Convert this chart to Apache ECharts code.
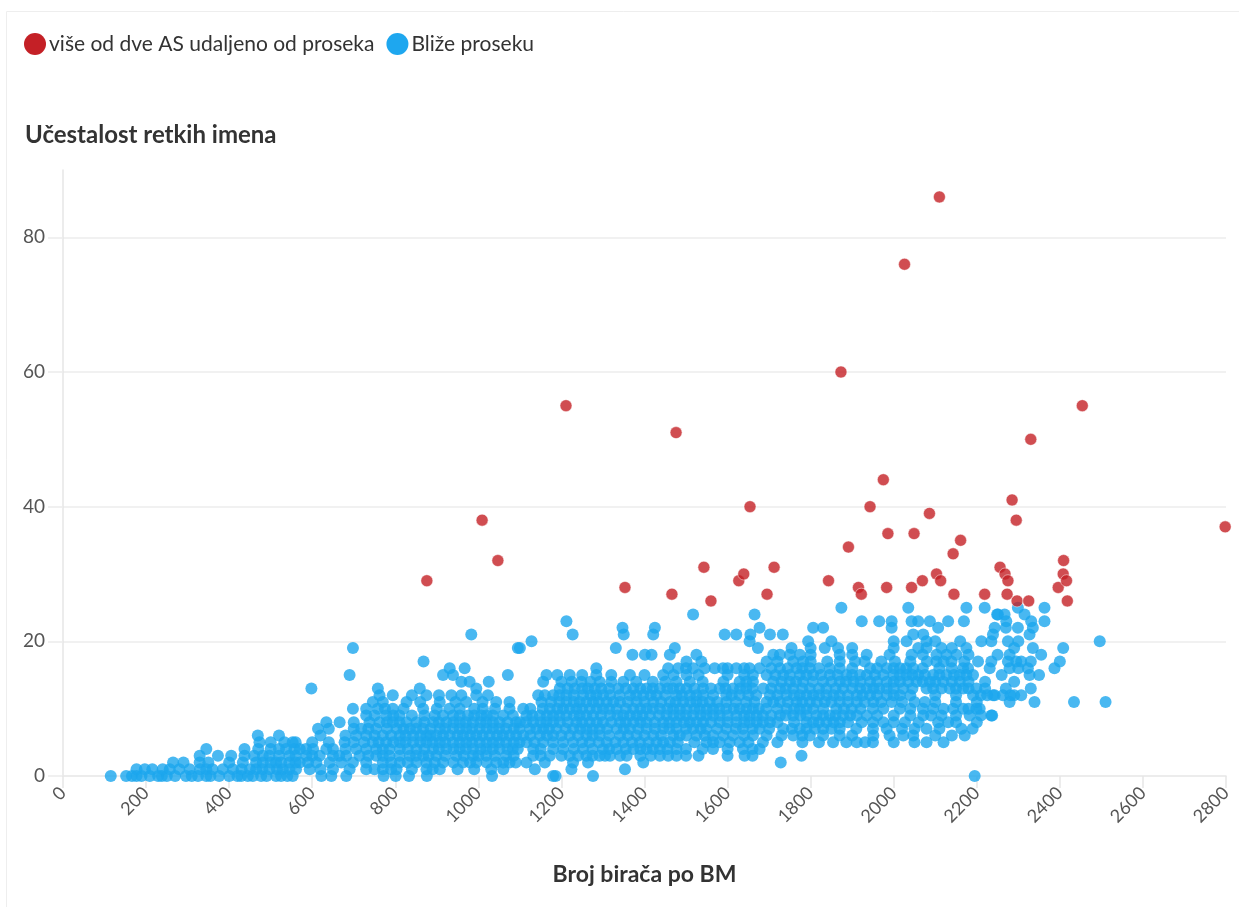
<!DOCTYPE html>
<html>
<head>
<meta charset="utf-8">
<title>Učestalost retkih imena</title>
<script src="https://cdn.jsdelivr.net/npm/echarts@6/dist/echarts.min.js"></script>
<style>
    html, body { margin: 0; padding: 0; background: #fff; }
    #chart { width: 1239px; height: 907px; }
</style>
</head>
<body>
<div id="chart"></div>
<script>
    // tekstovi
    const titleText = 'Učestalost retkih imena'
    const xName = 'Broj birača po BM'
    const outlierName = 'više od dve AS udaljeno od proseka'
    const nearName = 'Bliže proseku'

    // ose
    const xMin = 0, xMax = 2800, xStep = 200
    const yMin = 0, yMax = 90, yStep = 20

    // BM koja su vise od dve AS udaljena od proseka: [broj birača, retka imena]
    const outlierPoints = [
        [876,29],[1009,38],[1047,32],[1211,55],[1353,28],[1466,27],[1476,51],[1543,31],
        [1560,26],[1627,29],[1639,30],[1654,40],[1695,27],[1712,31],[1843,29],[1873,60],
        [1891,34],[1915,28],[1922,27],[1943,40],[1975,44],[1983,28],[1986,36],[2026,76],
        [2043,28],[2049,36],[2069,29],[2086,39],[2103,30],[2110,86],[2113,29],[2143,33],
        [2145,27],[2161,35],[2219,27],[2256,31],[2268,30],[2273,27],[2275,29],[2285,41],
        [2295,38],[2297,26],[2325,26],[2330,50],[2396,28],[2408,30],[2409,32],[2416,29],
        [2418,26],[2454,55],[2798,37]
    ]

    // ostala BM, po broju retkih imena: [retka imena, [broj birača ...]]
    const nearRows = [
        [0, [115,152,166,177,189,209,229,238,296,310,325,376,400,429,457,477,513,525,553,
             622,646,682,772,801,833,876,1033,1180,1186,1276,2195]],
        [1, [177,197,257,305,345,409,465,497,529,561,594,650,730,770,803,875,907,1031,
             1136,1224,1353]],
        [2, [265,329,433,465,481,513,545,570,610,642,698,770,811,851,875,915,963,995,1043,1075,
             1116,1160,1228,1264,1397,1728]],
        [3, [329,373,437,481,497,545,586,618,650,682,714,754,786,835,867,899,947,987,1019,1067,
             1132,1172,1220,1260,1292,1317,1341,1357,1437,1457,1477,1641,1778]],
        [4, [345,437,537,557,570,602,634,706,754,786,811,851,891,923,955,987,1019,1051,1083,
             1132,1180,1204,1252,1300,1333,1373,1405,1437,1477,1565,1637,1677]],
        [5, [473,533,553,678,746,778,811,843,875,907,939,971,1003,1035,1067,1099,
             1116,1156,1204,1228,1268,1309,1349,1389,1429,1461,1549,1581,1629,1685,
             1854,1886,1911,1931,2079]],
        [6, [469,706,730,770,811,843,875,899,931,963,995,1027,1059,1091,
             1108,1148,1180,1220,1260,1292,1341,1381,1421,1469,1501,1565,1613,1661,
             1694,1758,1798,1870,1951,2023,2047,2171]],
        [7, [614,718,754,803,835,867,907,939,971,1003,1035,1067,1099,
             1124,1156,1188,1228,1260,1292,1333,1365,1405,1445,1477,1517,1549,1597,1637,1677,
             1734,1774,1810,1850,1983,2079,2163]],
        [8, [634,666,738,762,794,827,851,891,923,955,987,1019,1051,1091,
             1100,1132,1164,1196,1236,1268,1300,1341,1373,1405,1445,1477,1509,1541,1581,1621,1653,1685,
             1702,1806,1838,1870,1923,1975,2027,2107,2131]],
        [9, [730,778,810,895,939,975,1007,1035,1083,
             1116,1148,1180,1212,1244,1276,1317,1349,1381,1413,1453,1485,1517,1549,1581,1621,1653,1685,
             1726,1758,1790,1814,1846,1878,1911,1935,2071,2115,2183,2235,2237]],
        [10, [698,758,794,867,955,1011,1075,
              1108,1172,1204,1236,1268,1300,1333,1373,1405,1437,1469,1501,1533,1565,1597,1629,1661,1693,
              1742,1774,1806,1862,1899,1975,2015,2095,2143,2167,2199,2207]],
        [11, [746,827,907,971,1043,1075,
              1152,1212,1244,1276,1309,1341,1381,1421,1461,1493,1525,1557,1597,1645,
              1694,1726,1766,1798,1834,1870,1911,1951,1995,2075,2279,2339,2434,2510]],
        [12, [762,794,875,959,995,1023,
              1144,1180,1212,1252,1284,1317,1365,1397,1429,1477,1509,1541,1597,1629,1669,
              1702,1742,1774,1806,1838,1870,1911,1943,1983,2015,2191,2239,2243,2263,2281,2307]],
        [13, [598,758,859,995,
              1196,1232,1264,1296,1337,1373,1405,1437,1469,1501,1541,1581,1613,1645,
              1686,1726,1758,1798,1838,1878,1919,1951,1983,2023,2079,2115,2135,2167,2199]],
        [14, [959,979,1025,
              1156,1200,1248,1292,1349,1477,1509,1629,1661,
              1710,1750,1782,1830,1870,1903,1943,1983,2015,2055,2087,2119,2159]],
        [15, [690,915,939,1071,
              1164,1220,1284,1365,1445,1501,1661,
              1694,1734,1774,1806,1846,1886,1919,1955,1999,2031,2059,2095,2127,2159,2191,2327]],
        [16, [931,967,
              1284,1457,1481,1517,1569,1589,1621,1653,1677,
              1726,1766,1798,1846,1870,1943,1983,2015,2047,2167,2179,2231,2279,2323,2387]],
        [17, [868,1501,1537,1694,1758,1782,1870,1907,2003,2103,2139,2203,2275,2295,2307,2400]],
        [18, [1371,1401,1417,1461,1525,1710,1726,1774,1870,1935,2043,2103,2127,2151,2279,2355]],
        [19, [698,1095,1100,1331,1473,1673,1754,1834,1866,2059,2079,2115,2175,2335,2408]],
        [20, [1128,1653,1794,2031,2079,2211,2235,2275,2496]],
        [21, [983,1227,1350,1421,1593,1621,1655,1702,1733,2047,2071,2239,2327]],
        [22, [1347,1425,1677,1806,1830,1995,2107,2243,2299,2335]],
        [23, [1212,1923,1965,1995,2043,2059,2087,2131,2169,2271,2331,2363]],
        [24, [1517,1665,2249,2251,2267,2315]],
        [25, [1874,2035,2175,2219,2299,2363]]
    ]

    // gusti deo oblaka (tačke koje se preklapaju)
    const nearRowsDense = [
        [0, [250,270,345,355,420,445,490,540]],
        [1, [215,240,280,330,360,385,430,450,480,515,545,620,690,750,790,840,890,950,990,1060]],
        [2, [290,350,400,500,525,560,590,670,730,790,830,895,940,980,1020,1060,1090]],
        [3, [405,460,520,560,600,665,735,770,810,850,880,920,965,1000,1040,1085,
             1150,1200,1240,1275,1305,1390,1415,1500,1530,1600,1660]],
        [4, [470,500,520,585,650,680,730,770,830,870,905,940,970,1005,1035,1070,1095,
             1150,1230,1275,1315,1355,1390,1420,1455,1500,1540,1600,1660]],
        [5, [500,560,600,640,700,725,760,795,825,860,890,920,955,985,1020,1050,1085,
             1135,1180,1250,1290,1330,1370,1410,1445,1480,1520,1565,1605,1650,
             1720,1780,1820,1950,2000,2050,2120]],
        [6, [520,620,680,750,790,825,860,885,915,950,980,1010,1045,1075,
             1125,1165,1200,1240,1275,1315,1360,1400,1440,1485,1525,1545,1590,1640,
             1730,1780,1830,1900,1990,2100,2140]],
        [7, [640,700,735,780,820,850,885,920,955,985,1020,1050,1085,
             1140,1170,1210,1245,1275,1310,1350,1385,1425,1460,1500,1535,1575,1620,1660,
             1700,1755,1790,1830,1870,1910,1950,2020,2050,2110,2190]],
        [8, [700,780,810,870,905,940,970,1005,1035,1070,
             1115,1150,1180,1215,1250,1285,1320,1355,1390,1425,1460,1495,1525,1560,1600,1640,1670,
             1720,1760,1790,1820,1855,1890,1950,2000,2060,2150,2200]],
        [9, [750,795,840,870,915,955,990,1020,1060,
             1130,1165,1195,1230,1260,1295,1335,1365,1395,1435,1470,1500,1535,1565,1600,1640,1670,
             1705,1740,1775,1830,1860,1895,1960,2000,2040,2090,2150,2210]],
        [10, [730,775,820,900,930,990,1040,
              1125,1155,1190,1220,1250,1285,1315,1355,1390,1420,1455,1485,1520,1550,1580,1615,1645,1675,
              1720,1760,1790,1830,1880,1920,1950,2040,2070,2120,2180]],
        [11, [770,860,945,1010,
              1175,1195,1230,1260,1290,1325,1360,1400,1440,1475,1510,1540,1575,1620,1665,
              1710,1745,1780,1815,1850,1890,1930,1970,2020,2050,2100,2150,2200]],
        [12, [840,905,935,
              1160,1195,1230,1270,1300,1340,1380,1415,1450,1490,1525,1565,1610,1650,
              1720,1760,1790,1820,1855,1890,1925,1960,2000,2040,2100,2150,2210,2225,2290]],
        [13, [1215,1250,1280,1315,1355,1390,1420,1455,1485,1520,1560,1595,1630,1660,
              1705,1740,1780,1820,1860,1900,1935,1965,2000,2045,2095,2150,2180,2220,2270,2330]],
        [14, [1225,1270,1320,1380,1420,1450,1540,1590,1645,
              1730,1765,1805,1850,1885,1920,1960,2000,2035,2070,2100,2140,2180,2220,2290]],
        [15, [1190,1250,1320,1400,1470,1530,1600,1640,
              1715,1750,1790,1825,1865,1900,1935,1975,2015,2045,2075,2110,2145,2175,2260,2350]],
        [16, [1500,1545,1600,1640,1705,1745,1780,1820,1900,1960,2000,2030,2070,2110,2140,2300]],
        [17, [1720,1800,1840,1930,1970,2040,2080,2120,2170,2235,2330]],
        [18, [1750,1800,1900,1990,2070,2180,2250]],
        [19, [1800,1900,2000,2140,2290]],
        [20, [1850,2000,2100,2160,2300]],
        [22, [2270]]
    ]

    let nearPoints = []
    nearRows.concat(nearRowsDense).forEach(row=>{
        row[1].forEach(x=>{
            nearPoints.push([x, row[0]])
        })
    })

    const fontFamily = 'Lato, "Noto Sans", sans-serif'
    const gridColor = '#ececec'
    const labelColor = '#555'

    let chart = echarts.init(document.getElementById('chart'), null, {renderer: 'canvas'})

    let option = {
        animation: false,
        textStyle: { fontFamily: fontFamily },
        title: {
            text: titleText,
            left: 20,
            top: 118,
            textStyle: { fontSize: 24, fontWeight: 'bold', color: '#333', fontFamily: fontFamily }
        },
        legend: {
            left: 19,
            top: 28,
            icon: 'circle',
            itemWidth: 22,
            itemHeight: 22,
            itemGap: 12,
            textStyle: { fontSize: 21, color: '#333', fontFamily: fontFamily, padding: [0, 0, 0, -2] },
            data: [
                { name: outlierName, itemStyle: { color: '#c42026', opacity: 1, borderWidth: 0 } },
                { name: nearName, itemStyle: { color: '#1ea7ef', opacity: 1, borderWidth: 0 } }
            ]
        },
        graphic: [{
            // okvir kartice
            type: 'rect',
            silent: true,
            shape: { x: 6.5, y: 11.5, width: 1260, height: 920 },
            style: { fill: 'none', stroke: '#eeeeee', lineWidth: 1 }
        }],
        grid: {
            left: 63,
            right: 13,
            top: 170,
            bottom: 131
        },
        xAxis: {
            type: 'value',
            min: xMin,
            max: xMax,
            interval: xStep,
            name: xName,
            nameLocation: 'middle',
            nameGap: 87,
            nameTextStyle: { fontSize: 23, fontWeight: 'bold', color: '#333', fontFamily: fontFamily },
            axisLine: { show: true, lineStyle: { color: '#e6e6e6', width: 1.5 } },
            axisTick: { show: true, length: 12, lineStyle: { color: '#e6e6e6', width: 1.5 } },
            axisLabel: {
                rotate: 45, margin: 14, fontSize: 18, color: labelColor,
                formatter: v => String(v)
            },
            splitLine: { show: false }
        },
        yAxis: {
            type: 'value',
            min: yMin,
            max: yMax,
            interval: yStep,
            axisLine: { show: true, lineStyle: { color: '#e6e6e6', width: 1.5 } },
            axisTick: { show: true, length: 15, lineStyle: { color: '#ececec', width: 1.5 } },
            axisLabel: { margin: 18, fontSize: 19, color: labelColor, showMaxLabel: false },
            splitLine: { show: true, showMinLine: false, showMaxLine: false, lineStyle: { color: gridColor, width: 1.5 } }
        },
        series: [
            {
                name: nearName,
                type: 'scatter',
                symbolSize: 12,
                itemStyle: { color: '#1ca6ee', opacity: 0.8 },
                data: nearPoints,
                z: 2
            },
            {
                name: outlierName,
                type: 'scatter',
                symbolSize: 12,
                itemStyle: { color: '#c42026', opacity: 0.8, borderColor: '#fff', borderWidth: 0.6 },
                data: outlierPoints,
                z: 3
            }
        ]
    }

    chart.setOption(option)
</script>
</body>
</html>
